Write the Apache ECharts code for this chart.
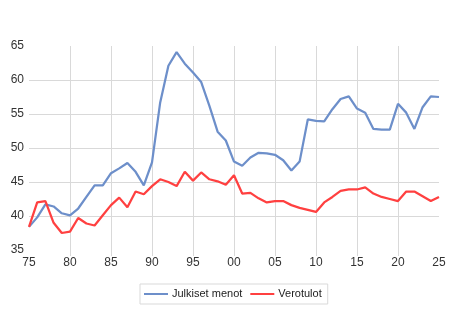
<!DOCTYPE html>
<html>
<head>
<meta charset="utf-8">
<script src="https://cdn.jsdelivr.net/npm/echarts@6/dist/echarts.min.js"></script>
<style>
  html, body { margin: 0; padding: 0; background: #fff; }
  #chart { width: 459px; height: 328px; }
</style>
</head>
<body>
<div id="chart"></div>
<script>
// Years 1975–2025
const years = [];
for (let y = 1975; y <= 2025; y++) years.push(y);

// Julkiset menot, % BKT
const julkisetMenot = [
  38.4, 39.8, 41.7, 41.4, 40.4, 40.1, 41.1, 42.8, 44.5, 44.5,
  46.3, 47.0, 47.8, 46.5, 44.5, 47.9, 56.7, 62.1, 64.1, 62.4,
  61.1, 59.7, 56.2, 52.4, 51.1, 48.0, 47.4, 48.6, 49.3, 49.2,
  49.0, 48.2, 46.7, 48.0, 54.2, 54.0, 53.9, 55.7, 57.2, 57.6,
  55.8, 55.2, 52.8, 52.7, 52.7, 56.5, 55.2, 52.8, 56.0, 57.6,
  57.5
];

// Verotulot, % BKT
const verotulot = [
  38.4, 42.0, 42.2, 39.0, 37.5, 37.7, 39.7, 38.9, 38.6, 40.1,
  41.6, 42.7, 41.3, 43.6, 43.2, 44.4, 45.4, 45.0, 44.4, 46.5,
  45.2, 46.4, 45.4, 45.1, 44.6, 46.0, 43.3, 43.4, 42.6, 42.0,
  42.2, 42.2, 41.6, 41.2, 40.9, 40.6, 42.0, 42.8, 43.7, 43.9,
  43.9, 44.2, 43.3, 42.8, 42.5, 42.2, 43.6, 43.6, 42.9, 42.2,
  42.8
];

const seriesNames = ['Julkiset menot', 'Verotulot'];
const seriesColors = ['#6D8FCA', '#FF4040'];

const gridColor = '#D9D9D9';
const fontFamily = '"Liberation Sans", Arial, sans-serif';

// Every fifth year gets a gridline, except the two ends of the axis
const innerFive = (idx) => idx % 5 === 0 && idx !== 0 && idx !== years.length - 1;

const chart = echarts.init(document.getElementById('chart'), null, { renderer: 'canvas' });

chart.setOption({
  animation: false,
  backgroundColor: '#fff',
  grid: { left: 29, right: 20, top: 46, bottom: 78, containLabel: false },
  xAxis: {
    type: 'category',
    data: years,
    boundaryGap: false,
    axisLine: { show: false },
    axisTick: { show: true, interval: innerFive, length: 6, lineStyle: { color: gridColor } },
    splitLine: { show: true, interval: innerFive, lineStyle: { color: gridColor, width: 1 } },
    axisLabel: {
      interval: 4,
      margin: 7,
      color: '#333',
      fontSize: 12,
      fontFamily: fontFamily,
      formatter: (v) => String(v).slice(2)
    }
  },
  yAxis: {
    type: 'value',
    min: 35,
    max: 65,
    interval: 5,
    axisLine: { show: false },
    axisTick: { show: false },
    splitLine: { show: true, showMinLine: false, showMaxLine: false, lineStyle: { color: gridColor, width: 1 } },
    axisLabel: { margin: 5, color: '#333', fontSize: 12, fontFamily: fontFamily }
  },
  legend: {
    left: 140,
    top: 284,
    orient: 'horizontal',
    icon: 'rect',
    itemWidth: 24,
    itemHeight: 2,
    itemGap: 8,
    padding: [3, 6, 3, 4],
    borderColor: gridColor,
    borderWidth: 1,
    textStyle: { color: '#222', fontSize: 11, fontFamily: fontFamily, lineHeight: 14, padding: [0, 0, 0, -1] },
    data: seriesNames
  },
  series: [
    {
      name: seriesNames[0],
      type: 'line',
      data: julkisetMenot,
      symbol: 'none',
      smooth: false,
      lineStyle: { color: seriesColors[0], width: 2.25 },
      itemStyle: { color: seriesColors[0] }
    },
    {
      name: seriesNames[1],
      type: 'line',
      data: verotulot,
      symbol: 'none',
      smooth: false,
      lineStyle: { color: seriesColors[1], width: 2.25 },
      itemStyle: { color: seriesColors[1] }
    }
  ]
});
</script>
</body>
</html>
